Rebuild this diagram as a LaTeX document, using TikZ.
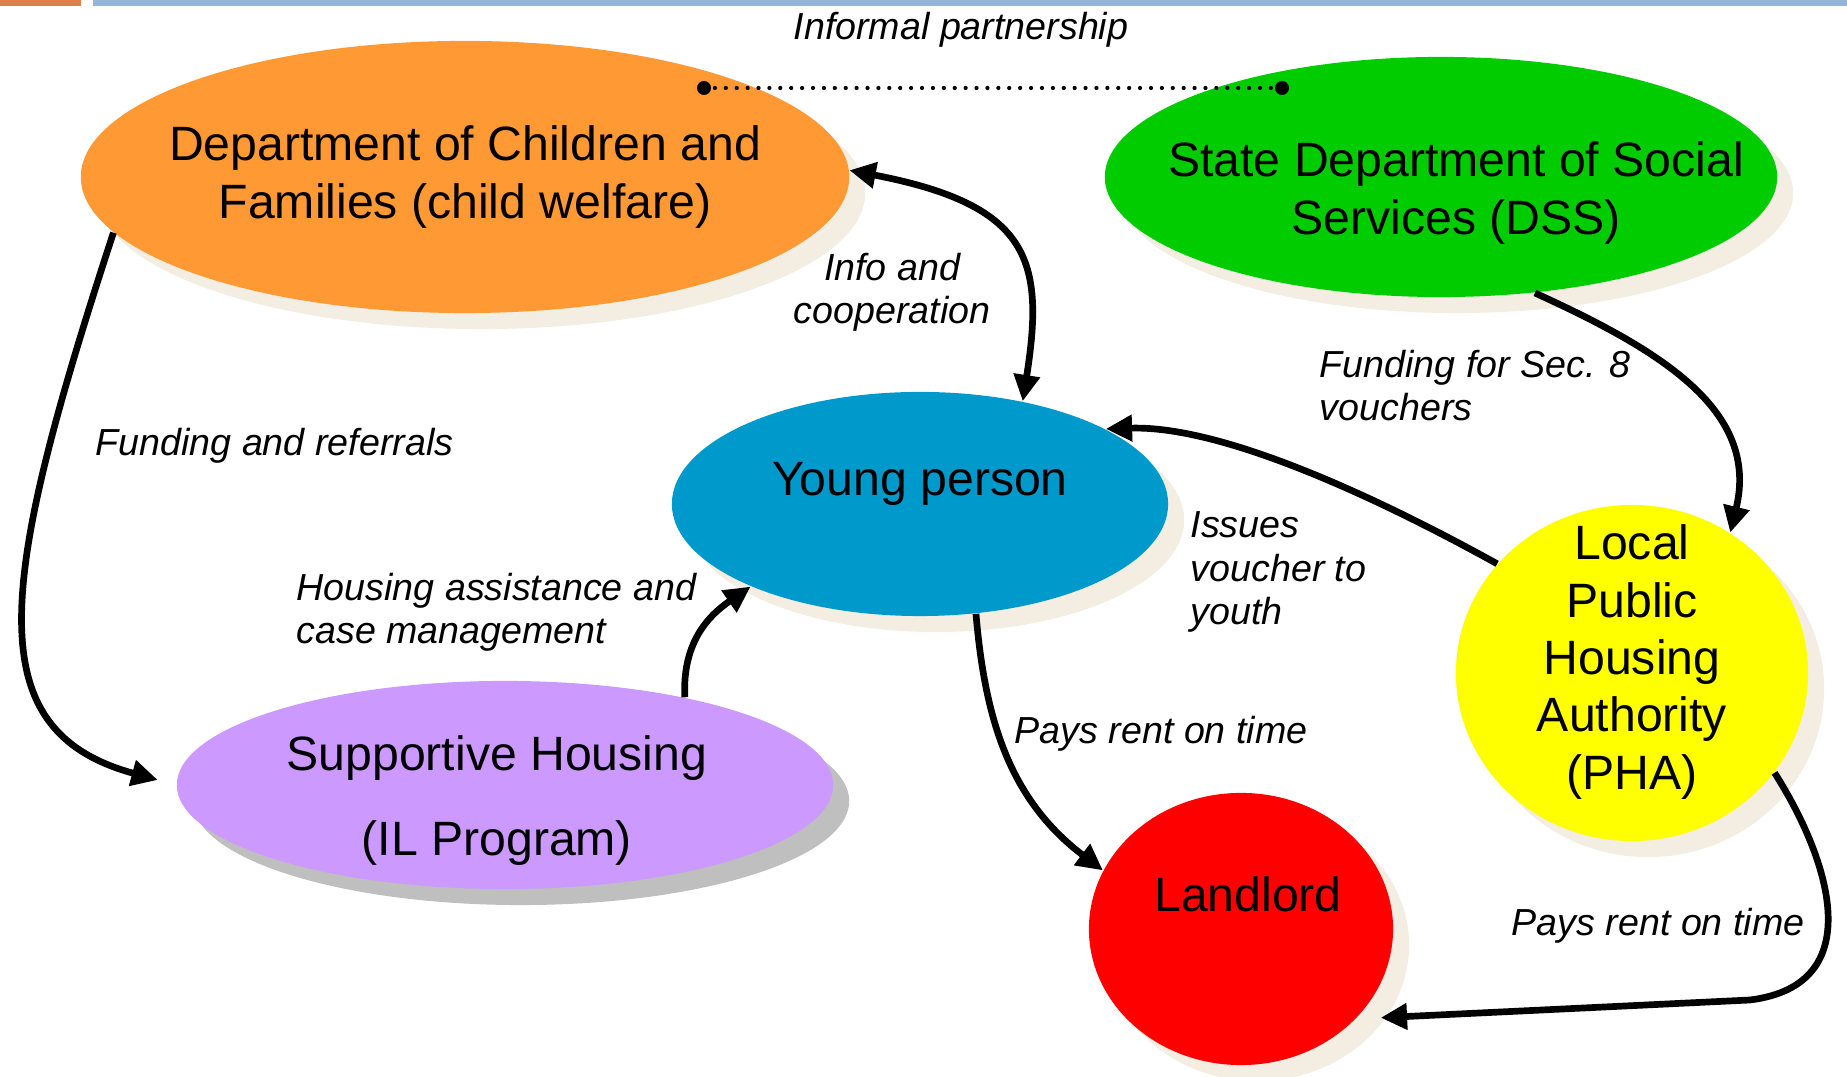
\documentclass[tikz,border=0pt]{standalone}
\usepackage{fontspec}
\setmainfont{Liberation Sans}
\usepackage{tikz}
\usetikzlibrary{positioning, arrows.meta, shapes.geometric, shadows, calc}

\definecolor{barorange}{HTML}{E07F48}
\definecolor{barblue}{HTML}{95B3D3}
\definecolor{shadowbeige}{HTML}{F3EDE2}
\definecolor{shadowgray}{HTML}{BFBFBF}
\definecolor{dcforange}{HTML}{FF9933}
\definecolor{dssgreen}{HTML}{00CC00}
\definecolor{youthblue}{HTML}{0099CC}
\definecolor{ilpurple}{HTML}{CC99FF}
\definecolor{phayellow}{HTML}{FFFF00}
\definecolor{landred}{HTML}{FF0000}

\tikzset{
    agency/.style={ellipse, draw=none, inner sep=0pt,
        general shadow={fill=#1, shadow xshift=0.16cm, shadow yshift=-0.16cm}},
    agency/.default=shadowbeige,
    maintext/.style={font=\fontsize{13.7}{16.3}\selectfont, align=center},
    edgelabel/.style={font=\fontsize{10.7}{12.5}\selectfont\itshape, inner sep=0pt},
    flow/.style={line width=1.9pt, >={Triangle[length=7.5pt, width=7.2pt]}, ->}
}

\begin{document}
\begin{tikzpicture}[x=0.01cm, y=-0.01cm]
    \useasboundingbox (0,0) rectangle (1847,1077);

    % top bar
    \fill[barorange] (0,0) rectangle (81,6);
    \fill[barblue] (93,0) rectangle (1847,6);

    % agencies
    \node[agency, fill=dcforange, minimum width=7.68cm, minimum height=2.72cm,
        label={[maintext]center:Department of Children and\\Families (child welfare)}]
        (dcf) at (465,177) {};
    \node[agency, fill=dssgreen, minimum width=6.72cm, minimum height=2.40cm,
        label={[maintext, xshift=4.3pt, yshift=-4.6pt]center:State Department of Social\\Services (DSS)}]
        (dss) at (1441,177) {};
    \node[agency, fill=youthblue, minimum width=4.96cm, minimum height=2.24cm,
        label={[maintext, yshift=5.8pt]center:Young person}]
        (yp) at (920,504) {};
    \node[agency=shadowgray, fill=ilpurple, minimum width=6.56cm, minimum height=2.08cm,
        label={[maintext, font=\fontsize{13.7}{24.2}\selectfont, xshift=-2.3pt, yshift=-4.3pt]center:Supportive Housing\\(IL Program)}]
        (sh) at (505,785) {};
    \node[agency, fill=phayellow, minimum width=3.52cm, minimum height=3.36cm,
        label={[maintext, yshift=3.1pt]center:Local\\Public\\Housing\\Authority\\(PHA)}]
        (pha) at (1632,673) {};
    \node[agency, fill=landred, minimum width=3.04cm, minimum height=2.72cm,
        label={[maintext, xshift=2pt, yshift=9.8pt]center:Landlord}]
        (ll) at (1241,929) {};

    % informal partnership
    \coordinate (pdcf) at (704,88);
    \coordinate (pdss) at (1282,88);
    \draw[line width=1.2pt, line cap=round, dash pattern=on 0pt off 3.1pt] (pdcf) -- (pdss);
    \fill (pdcf) circle (7);
    \fill (pdss) circle (7);

    % connectors
    \draw[flow, <->] (dcf.1) .. controls (1030,205) and (1045,260) .. (yp.45);
    \draw[flow, shorten >=5.4pt] (dcf.189) .. controls (0,580) and (-25,730) .. (sh.west);
    \draw[flow] (sh.26) .. controls (682,640) and (711,614) .. (yp.206);
    \draw[flow] (dss.-51) .. controls (1660,350) and (1760,410) .. (pha.55);
    \draw[flow] (pha.141) .. controls (1400,510) and (1230,425) .. (yp.22);
    \draw[flow] (yp.-63) .. controls (985,720) and (1010,800) .. (ll.157);
    \draw[flow, shorten >=7pt] (pha.-35) .. controls (1830,860) and (1870,985) .. (1750,1000) -- (ll.-38);

    % labels (base = last line)
    \node[edgelabel, align=center, anchor=base] (coop) at (892,324) {Info and\\cooperation};
    \foreach \name/\x/\y/\txt in {
        partner/793/40/{Informal partnership},
        referrals/95/456/{Funding and referrals},
        sec8/1319/421/{Funding for Sec. 8\\vouchers},
        issues/1190/625/{Issues\\voucher to\\youth},
        assist/296/644/{Housing assistance and\\case management},
        rentll/1014/744/{Pays rent on time},
        rentpha/1511/936/{Pays rent on time}}{

        \node[edgelabel, align=left, anchor=base west] (\name) at (\x,\y) {\txt};
    }
\end{tikzpicture}
\end{document}
